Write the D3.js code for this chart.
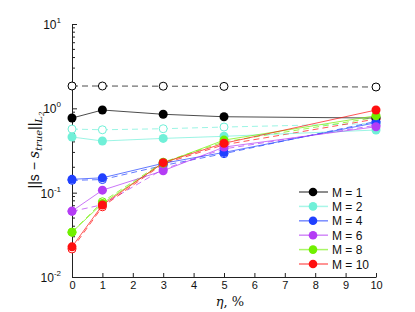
<!DOCTYPE html>
<html>
<head>
<meta charset="utf-8">
<script src="https://cdn.jsdelivr.net/npm/d3@7"></script>
<style>
body { margin: 0; background: #fff; }
text { font-family: "Liberation Sans", Arial, sans-serif; }
</style>
</head>
<body>
<svg id="chart" width="415" height="312"></svg>
<script>
// noise levels, %
var eta = [0, 1, 3, 5, 10];

var labels = ["M = 1", "M = 2", "M = 4", "M = 6", "M = 8", "M = 10"];
var colors = ["#000000", "#70f0d8", "#2040ff", "#b43cf5", "#70f000", "#ff1010"];

// solid lines, filled markers
var solid = [
  [0.767, 0.955, 0.85, 0.795, 0.767],
  [0.457, 0.41, 0.44, 0.466, 0.553],
  [0.144, 0.150, 0.223, 0.30, 0.675],
  [0.0605, 0.107, 0.182, 0.347, 0.605],
  [0.034, 0.0746, 0.224, 0.42, 0.817],
  [0.0228, 0.0713, 0.227, 0.385, 0.955]
];

// dashed lines, open markers
var dashed = [
  [1.84, 1.84, 1.83, 1.82, 1.79],
  [0.568, 0.557, 0.573, 0.60, 0.66],
  [0.14, 0.143, 0.21, 0.29, 0.70],
  [0.06, 0.072, 0.19, 0.33, 0.63],
  [0.034, 0.078, 0.23, 0.40, 0.78],
  [0.0215, 0.068, 0.22, 0.37, 0.746]
];

var xTicks = [0, 1, 2, 3, 4, 5, 6, 7, 8, 9, 10];
var yMajor = [0.01, 0.1, 1, 10];
var yExp = ["-2", "-1", "0", "1"];

var svg = d3.select("#chart"),
  width = +svg.attr("width"),
  height = +svg.attr("height");

var pLeft = 72, pRight = 376, pTop = 24, pBottom = 277;

var x = d3.scaleLinear().domain([0, 10]).range([pLeft, pRight]);
var y = d3.scaleLog().domain([0.01, 10]).range([pBottom, pTop]);

// axes (ticks pointing inside)
var gx = svg.append("g").attr("transform", "translate(0," + pBottom + ")")
  .call(d3.axisBottom(x).tickValues(xTicks).tickSizeInner(-4).tickSizeOuter(0).tickPadding(4));
gx.selectAll("text").attr("font-size", 11).attr("fill", "#111");

var minor = [];
yMajor.slice(0, 3).forEach(function (d) {
  for (var k = 2; k < 10; k++) minor.push(d * k);
});

var gy = svg.append("g").attr("transform", "translate(" + pLeft + ",0)")
  .call(d3.axisLeft(y).tickValues(yMajor).tickSizeInner(-5).tickSizeOuter(0).tickFormat(""));
gy.selectAll(".minor").data(minor).enter().append("line")
  .attr("x1", 0).attr("x2", 3)
  .attr("y1", function (d) { return y(d); })
  .attr("y2", function (d) { return y(d); })
  .attr("stroke", "#222");
svg.selectAll(".domain, .tick line").attr("stroke", "#222");

var ylab = svg.append("g").selectAll("text").data(yMajor).enter().append("text")
  .attr("x", 61)
  .attr("y", function (d) { return y(d) + 5; })
  .attr("text-anchor", "end")
  .attr("font-size", 12)
  .attr("fill", "#111");
ylab.append("tspan").text("10");
ylab.append("tspan").attr("dy", -6).attr("font-size", 8)
  .text(function (d, i) { return yExp[i]; });

// series
var line = d3.line()
  .x(function (d, i) { return x(eta[i]); })
  .y(function (d) { return y(d); });

var series = labels.map(function (l, i) { return i; });

svg.append("g").selectAll("path").data(series).enter().append("path")
  .attr("d", function (i) { return line(dashed[i]); })
  .attr("fill", "none")
  .attr("stroke", function (i) { return colors[i]; })
  .attr("stroke-opacity", 0.7)
  .attr("stroke-dasharray", "6,4")
  .attr("stroke-width", 1);

series.forEach(function (i) {
  svg.append("g").selectAll("circle").data(dashed[i]).enter().append("circle")
    .attr("cx", function (d, j) { return x(eta[j]); })
    .attr("cy", function (d) { return y(d); })
    .attr("r", 4)
    .attr("fill", "#fff")
    .attr("stroke", colors[i])
    .attr("stroke-width", 1);
});

series.forEach(function (i) {
  svg.append("path")
    .attr("d", line(solid[i]))
    .attr("fill", "none")
    .attr("stroke", colors[i])
    .attr("stroke-opacity", 0.7)
    .attr("stroke-width", 1);
  svg.append("g").selectAll("circle").data(solid[i]).enter().append("circle")
    .attr("cx", function (d, j) { return x(eta[j]); })
    .attr("cy", function (d) { return y(d); })
    .attr("r", 4.5)
    .attr("fill", colors[i]);
});

// legend
var lg = svg.append("g").selectAll("g").data(series).enter().append("g")
  .attr("transform", function (i) { return "translate(299," + (192 + i * 14.4) + ")"; });
lg.append("line").attr("x1", 0).attr("x2", 29)
  .attr("stroke", function (i) { return colors[i]; })
  .attr("stroke-opacity", 0.6)
  .attr("stroke-width", 1.5);
lg.append("circle").attr("cx", 14).attr("r", 4.3)
  .attr("fill", function (i) { return colors[i]; });
lg.append("text").attr("x", 33).attr("y", 4.5)
  .attr("font-size", 12).attr("fill", "#111")
  .text(function (i) { return labels[i]; });

// axis labels
var xl = svg.append("text").attr("x", 230).attr("y", 306)
  .attr("text-anchor", "middle").attr("font-size", 13).attr("fill", "#111");
xl.append("tspan").attr("font-family", "DejaVu Serif").attr("font-style", "italic").text("η");
xl.append("tspan").attr("font-family", "DejaVu Serif").text(", %");

var yl = svg.append("text")
  .attr("transform", "translate(39,150) rotate(-90)")
  .attr("text-anchor", "middle").attr("font-size", 14).attr("fill", "#111");
yl.append("tspan").text("||s − ");
yl.append("tspan").attr("font-family", "DejaVu Serif").attr("font-style", "italic").text("s");
yl.append("tspan").attr("font-family", "DejaVu Serif").attr("font-style", "italic")
  .attr("font-size", 10).attr("dy", 3).text("true");
yl.append("tspan").attr("dy", -3).text("||");
yl.append("tspan").attr("font-family", "DejaVu Serif").attr("font-style", "italic")
  .attr("font-size", 10).attr("dy", 3).text("L");
yl.append("tspan").attr("font-family", "DejaVu Serif").attr("font-style", "italic")
  .attr("font-size", 7).attr("dy", 2).text("2");
</script>
</body>
</html>
